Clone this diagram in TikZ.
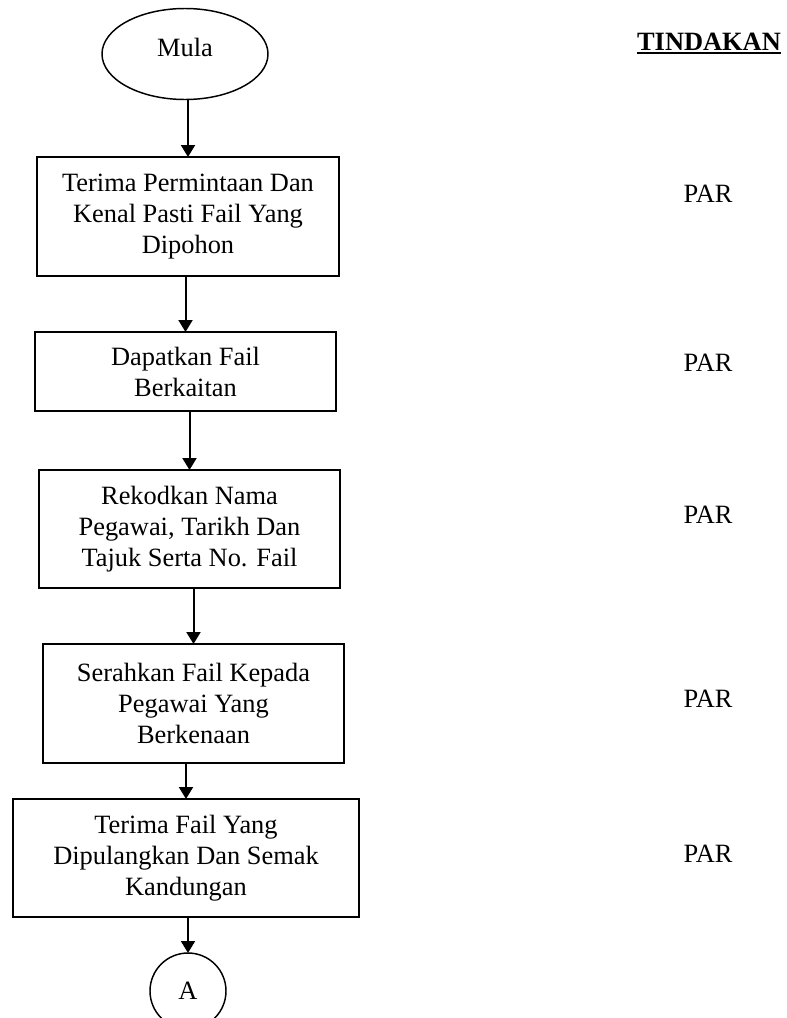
\documentclass[tikz,border=0pt]{standalone}
\usepackage{fontspec}
\setmainfont{Liberation Serif}
\usetikzlibrary{shapes.geometric,arrows.meta}
\tikzset{
  box/.style={draw, line width=1.1pt, rectangle, align=center, inner sep=0pt, outer sep=0pt,
              font=\fontsize{19.8}{23.25}\selectfont},
  term/.style={draw, line width=1.1pt, ellipse, inner sep=0pt, outer sep=0pt},
  conn/.style={draw, line width=1.1pt, circle, inner sep=0pt, outer sep=0pt,
              font=\fontsize{19.8}{23.25}\selectfont},
  arr/.style={line width=1.5pt, -{Triangle[length=9pt,width=10.5pt]}},
  lbl/.style={inner sep=0pt, anchor=base, font=\fontsize{19.8}{23.25}\selectfont},
}
\begin{document}
\begin{tikzpicture}[x=0.75pt, y=-0.75pt]
\useasboundingbox (0,0) rectangle (787,1018);
\fill[white] (0,0) rectangle (787,1018);

\node[term, minimum width=124.5pt, minimum height=68.25pt,
      label={[lbl, anchor=center, yshift=5pt]center:Mula}] (start) at (185,54) {};

\node[box, minimum width=226.5pt, minimum height=89.25pt] (b1) at (188,216.5)
  {Terima Permintaan Dan\\Kenal Pasti Fail Yang\\Dipohon};
\node[box, minimum width=225.75pt, minimum height=59.25pt] (b2) at (185.5,371.5)
  {Dapatkan Fail\\Berkaitan};
\node[box, minimum width=225.75pt, minimum height=88.5pt] (b3) at (189.5,529)
  {Rekodkan Nama\\Pegawai, Tarikh Dan\\Tajuk Serta No. Fail};
\node[box, minimum width=225.75pt, minimum height=89.25pt] (b4) at (193.5,703.5)
  {Serahkan Fail Kepada\\Pegawai Yang\\Berkenaan};
\node[box, minimum width=259.5pt, minimum height=88.5pt] (b5) at (186,858)
  {Terima Fail Yang\\Dipulangkan Dan Semak\\Kandungan};
\node[conn, minimum size=57pt] (a) at (188,991) {A};

\draw[arr] (start.south -| b1.north) -- (b1.north);
\draw[arr] (b1.south -| b2.north) -- (b2.north);
\draw[arr] (b2.south -| b3.north) -- (b3.north);
\draw[arr] (b3.south -| b4.north) -- (b4.north);
\draw[arr] (b4.south -| b5.north) -- (b5.north);
\draw[arr] (b5.south -| a.north) -- (a.north);

\node[lbl, font=\fontsize{19.8}{23.25}\selectfont\bfseries] (tind) at (709,50) {TINDAKAN};
\draw[line width=1.5pt] ([yshift=-2.6pt]tind.base west) -- ([yshift=-2.6pt]tind.base east);

\node[lbl] (p1) at (708,202) {PAR};
\node[lbl] (p2) at (708,371) {PAR};
\node[lbl] (p3) at (708,523) {PAR};
\node[lbl] (p4) at (708,707) {PAR};
\node[lbl] (p5) at (708,862) {PAR};
\end{tikzpicture}
\end{document}
